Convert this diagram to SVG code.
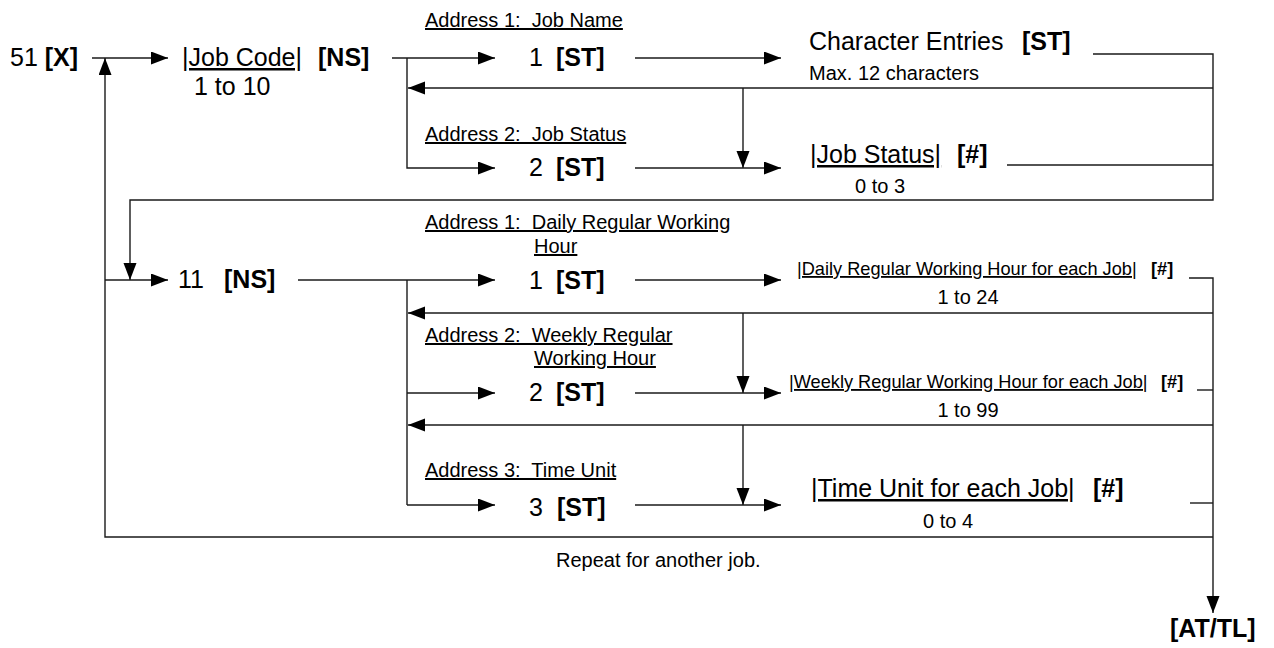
<svg xmlns="http://www.w3.org/2000/svg" width="1274" height="648" viewBox="0 0 1274 648" xml:space="preserve">
<defs>
<style>
text{font-family:"Liberation Sans",Arial,sans-serif;fill:#000;white-space:pre}
.l{font-size:25px}
.s{font-size:20px}
.m{font-size:18.2px}
.b{font-weight:bold}
.u{text-decoration:underline}
.c{stroke:#1a1a1a;stroke-width:1.4;fill:none}
.a{marker-end:url(#ah)}
</style>
<marker id="ah" markerUnits="userSpaceOnUse" markerWidth="18" markerHeight="14" refX="17" refY="6.5" orient="auto" viewBox="0 0 18 14">
<path d="M0,0 L17,6.5 L0,13 z" fill="#000"/>
</marker>
</defs>
<g id="connectors">
<path class="c a" d="M92,58 H168"/>
<path class="c a" d="M1213,537 H105 V58"/>
<path class="c a" d="M392,58 H495"/>
<path class="c a" d="M407,58 V168 H495"/>
<path class="c a" d="M635,58 H781"/>
<path class="c a" d="M1093,54 H1213 V200 H130 V280"/>
<path class="c a" d="M1213,88 H408"/>
<path class="c a" d="M743,88 V168"/>
<path class="c a" d="M635,168 H781"/>
<path class="c" d="M1007,165 H1213"/>
<path class="c a" d="M105,280 H168"/>
<path class="c a" d="M298,280 H495"/>
<path class="c" d="M407,280 V505"/>
<path class="c a" d="M407,393 H495"/>
<path class="c a" d="M407,505 H495"/>
<path class="c a" d="M635,280 H781"/>
<path class="c a" d="M635,393 H781"/>
<path class="c a" d="M635,505 H781"/>
<path class="c a" d="M1189,278 H1213 V613"/>
<path class="c a" d="M1213,313 H408"/>
<path class="c a" d="M743,313 V393"/>
<path class="c a" d="M1213,425 H408"/>
<path class="c a" d="M743,425 V505"/>
<path class="c" d="M1197,390 H1213"/>
<path class="c" d="M1190,503 H1213"/>
</g>
<g id="n51"><text class="l" x="10" y="66">51 <tspan class="b">[X]</tspan></text></g>
<g id="jobcode">
<text class="l u" x="182" y="66">|Job Code|</text>
<text class="l b" x="318" y="66">[NS]</text>
<text class="l" x="194" y="95">1 to 10</text>
</g>
<g id="addr1-label"><text class="s u" x="425" y="27">Address 1:  Job Name</text></g>
<g id="st1"><text class="l" x="529" y="66">1</text><text class="l b" x="556" y="66">[ST]</text></g>
<g id="charentries">
<text class="l" x="809" y="50">Character Entries</text>
<text class="l b" x="1022" y="50">[ST]</text>
<text class="s" x="809" y="80">Max. 12 characters</text>
</g>
<g id="addr2-label"><text class="s u" x="425" y="141">Address 2:  Job Status</text></g>
<g id="st2"><text class="l" x="529" y="176">2</text><text class="l b" x="556" y="176">[ST]</text></g>
<g id="jobstatus">
<text class="l u" x="810" y="163">|Job Status|</text>
<text class="l b" x="957" y="163">[#]</text>
<text class="s" x="855" y="193">0 to 3</text>
</g>
<g id="n11"><text class="l" x="178" y="288">11</text><text class="l b" x="224" y="288">[NS]</text></g>
<g id="addr1b-label">
<text class="s u" x="425" y="229">Address 1:  Daily Regular Working</text>
<text class="s u" x="534" y="253">Hour</text>
</g>
<g id="st1b"><text class="l" x="529" y="289">1</text><text class="l b" x="556" y="289">[ST]</text></g>
<g id="daily">
<text class="m u" x="797" y="275">|Daily Regular Working Hour for each Job|</text>
<text class="m b" x="1151" y="275">[#]</text>
<text class="s" x="968" y="304" text-anchor="middle">1 to 24</text>
</g>
<g id="addr2b-label">
<text class="s u" x="425" y="342">Address 2:  Weekly Regular</text>
<text class="s u" x="534" y="365">Working Hour</text>
</g>
<g id="st2b"><text class="l" x="529" y="401">2</text><text class="l b" x="556" y="401">[ST]</text></g>
<g id="weekly">
<text class="m u" x="789" y="388">|Weekly Regular Working Hour for each Job|</text>
<text class="m b" x="1161" y="388">[#]</text>
<text class="s" x="968" y="417" text-anchor="middle">1 to 99</text>
</g>
<g id="addr3-label"><text class="s u" x="425" y="477">Address 3:  Time Unit</text></g>
<g id="st3"><text class="l" x="529" y="516">3</text><text class="l b" x="557" y="516">[ST]</text></g>
<g id="timeunit">
<text class="l u" x="811" y="497">|Time Unit for each Job|</text>
<text class="l b" x="1093" y="497">[#]</text>
<text class="s" x="948" y="528" text-anchor="middle">0 to 4</text>
</g>
<g id="repeat"><text class="s" x="556" y="567">Repeat for another job.</text></g>
<g id="attl"><text class="l b" x="1170" y="637">[AT/TL]</text></g>
</svg>
